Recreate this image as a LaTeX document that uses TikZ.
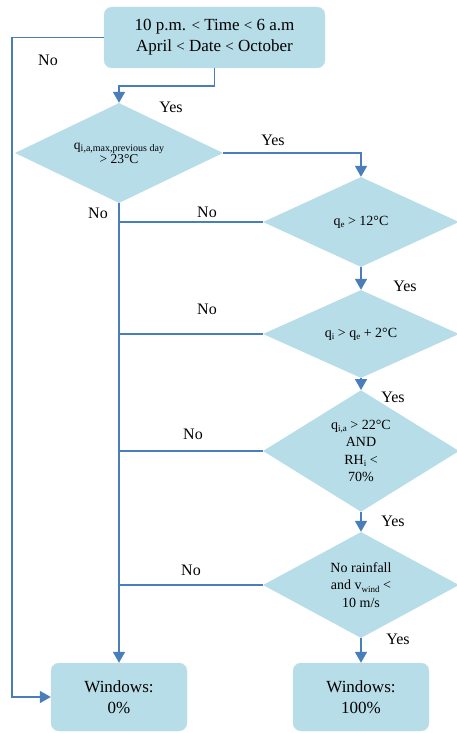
\documentclass[tikz,border=0pt]{standalone}
\usepackage{fontspec}
\setmainfont{Liberation Serif}
\usetikzlibrary{shapes.geometric,arrows.meta}
\definecolor{boxfill}{HTML}{B7DDE8}
\definecolor{linec}{HTML}{4A7EBB}
\newcommand{\sbs}[1]{\raisebox{-2.2pt}{\fontsize{9}{9}\selectfont #1}}
\newcommand{\sbsb}[1]{\raisebox{-2.4pt}{\fontsize{10}{10}\selectfont #1}}
\begin{document}
\begin{tikzpicture}[x=1pt,y=1pt,
  rbox/.style={rectangle,rounded corners=8pt,fill=boxfill,draw=boxfill!80!white,inner sep=0pt,align=center,font=\fontsize{17}{21}\selectfont},
  dia/.style={diamond,fill=boxfill,inner sep=0pt,minimum width=196pt,align=center,font=\fontsize{14}{17.5}\selectfont},
  conn/.style={draw=linec,line width=1.6pt},
  arr/.style={conn,-{Triangle[width=12pt,length=11pt]}},
  lab/.style={font=\fontsize{16}{16}\selectfont,inner sep=0pt}]
\useasboundingbox (0,0) rectangle (457,-733);
\node[rbox,minimum width=221pt,minimum height=61pt] (top) at (214.5,-37.5) {10 p.m. {\fontsize{15}{15}\selectfont<} Time {\fontsize{15}{15}\selectfont<} 6 a.m\\April {\fontsize{15}{15}\selectfont<} Date {\fontsize{15}{15}\selectfont<} October};
\node[dia,shape aspect=2.2,minimum width=208pt,minimum height=100pt,font=\fontsize{13.5}{14}\selectfont] (d1) at (119,-153) {q\sbsb{i,a,max,previous day}\\> 23°C};
\node[dia,minimum height=90pt] (d2) at (361,-222) {q\sbs{e} > 12°C};
\node[dia,minimum height=88pt] (d3) at (361,-334) {q\sbs{i} > q\sbs{e} + 2°C};
\node[dia,minimum height=97pt] (d4) at (361,-451) {q\sbs{i,a} > 22°C\\AND\\RH\sbs{i} <\\70\%};
\node[dia,minimum height=92pt] (d5) at (361,-585) {No rainfall\\and v\sbs{wind} <\\10 m/s};
\node[rbox,minimum width=136pt,minimum height=68pt] (w0) at (119,-697) {Windows:\\0\%};
\node[rbox,minimum width=136pt,minimum height=68pt] (w100) at (361,-697) {Windows:\\100\%};
% connectors
\draw[arr] (top.south) -- ++(0,-18) -| (d1.north);
\draw[arr] (top.west) -- ++(-92,0) |- (w0.west);
\draw[arr] (d1.east) -| (d2.north);
\draw[arr] (d1.south) -- (w0.north);
\draw[arr] (d2.south) -- (d3.north);
\draw[arr] (d3.south) -- (d4.north);
\draw[arr] (d4.south) -- (d5.north);
\draw[arr] (d5.south) -- (w100.north);
\draw[conn] (d2.west) -- (d2.west -| d1.south);
\draw[conn] (d3.west) -- (d3.west -| d1.south);
\draw[conn] (d4.west) -- (d4.west -| d1.south);
\draw[conn] (d5.west) -- (d5.west -| d1.south);
% labels
\node[lab] (l1) at (48,-60) {No};
\node[lab] (l2) at (171,-107) {Yes};
\node[lab] (l3) at (273,-140) {Yes};
\node[lab] (l4) at (98,-213) {No};
\node[lab] (l5) at (207,-212) {No};
\node[lab] (l6) at (405,-286) {Yes};
\node[lab] (l7) at (207,-309) {No};
\node[lab] (l8) at (393,-397) {Yes};
\node[lab] (l9) at (193,-434) {No};
\node[lab] (l10) at (393,-521) {Yes};
\node[lab] (l11) at (191,-570) {No};
\node[lab] (l12) at (398,-639) {Yes};
\end{tikzpicture}
\end{document}
